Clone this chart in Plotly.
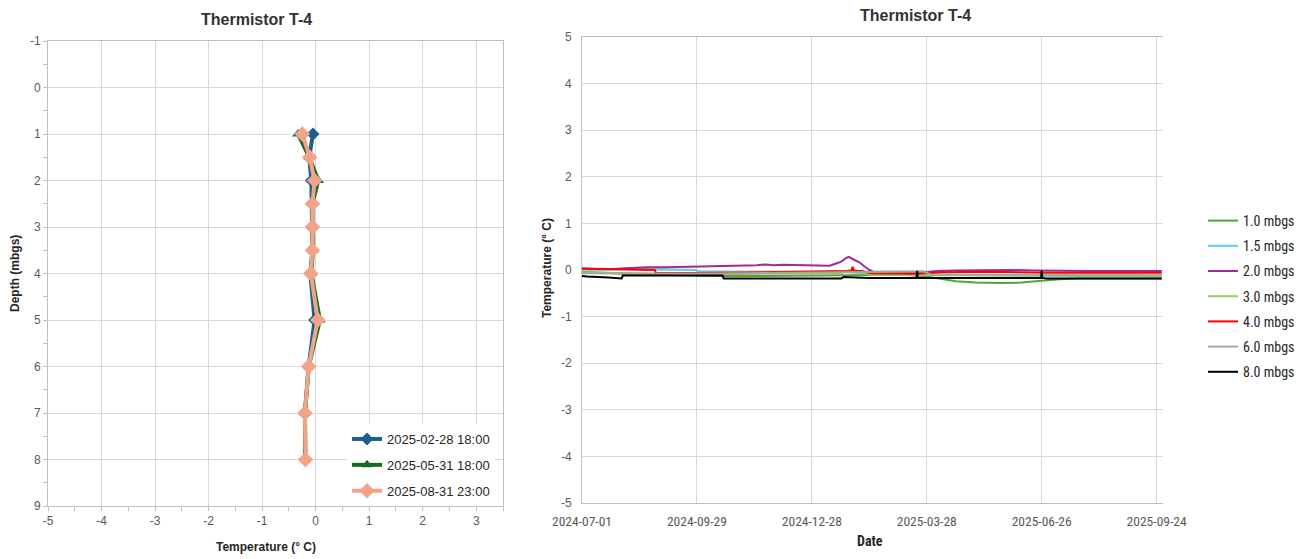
import plotly.graph_objects as go

# ---------------- Left chart: depth profiles ----------------
depths = [1, 1.5, 2, 2.5, 3, 3.5, 4, 5, 6, 7, 8]
temp_2025_02_28 = [-0.05, -0.12, -0.08, -0.07, -0.07, -0.06, -0.10, -0.02, -0.13, -0.20, -0.20]
temp_2025_05_31 = [-0.33, -0.12, 0.05, -0.06, -0.06, -0.05, -0.08, 0.08, -0.13, -0.20, -0.19]
temp_2025_08_31 = [-0.25, -0.11, -0.02, -0.06, -0.06, -0.06, -0.09, 0.04, -0.13, -0.20, -0.19]
profile_names = ["2025-02-28 18:00", "2025-05-31 18:00", "2025-08-31 23:00"]

left_x_ticks = [-5, -4, -3, -2, -1, 0, 1, 2, 3]
left_y_ticks = [-1, 0, 1, 2, 3, 4, 5, 6, 7, 8, 9]
right_y_ticks = [-5, -4, -3, -2, -1, 0, 1, 2, 3, 4, 5]

# ---------------- Right chart: time series ----------------
dates_10 = ["2024-07-01", "2024-07-15", "2024-08-01", "2024-08-20", "2024-09-15", "2024-10-15",
            "2024-11-15", "2024-12-15", "2025-01-15", "2025-02-15", "2025-03-10", "2025-03-25",
            "2025-04-05", "2025-04-20", "2025-05-05", "2025-05-25", "2025-06-10", "2025-06-26",
            "2025-07-10", "2025-07-25", "2025-09-28"]
temp_10 = [-0.04, -0.06, -0.08, -0.10, -0.11, -0.13, -0.13, -0.12, -0.11, -0.10, -0.10, -0.13,
           -0.18, -0.24, -0.27, -0.28, -0.27, -0.23, -0.20, -0.18, -0.18]

dates_15 = ["2024-07-01", "2024-07-20", "2024-08-05", "2024-09-01", "2024-09-28", "2024-10-01",
            "2024-11-01", "2024-12-15", "2025-01-20", "2025-02-12", "2025-03-20", "2025-05-01",
            "2025-06-15", "2025-07-15", "2025-09-28"]
temp_15 = [0.01, 0.00, 0.03, 0.02, 0.00, -0.03, -0.05, -0.05, -0.04, -0.08, -0.09, -0.10,
           -0.11, -0.13, -0.13]

dates_20 = ["2024-07-01", "2024-07-10", "2024-07-25", "2024-08-10", "2024-08-20", "2024-09-05",
            "2024-09-25", "2024-10-05", "2024-10-25", "2024-11-15", "2024-11-22", "2024-11-28",
            "2024-12-05", "2024-12-20", "2025-01-05", "2025-01-11", "2025-01-16", "2025-01-20",
            "2025-01-24", "2025-01-26", "2025-01-30", "2025-02-03", "2025-02-07", "2025-02-11",
            "2025-02-15", "2025-03-01", "2025-03-25", "2025-04-05", "2025-04-20", "2025-05-10",
            "2025-06-01", "2025-06-20", "2025-07-10", "2025-08-01", "2025-09-01", "2025-09-28"]
temp_20 = [0.03, 0.02, 0.02, 0.04, 0.06, 0.06, 0.07, 0.09, 0.10, 0.10, 0.12, 0.10,
           0.11, 0.10, 0.10, 0.09, 0.14, 0.18, 0.26, 0.28, 0.22, 0.17, 0.08, 0.00,
           -0.05, -0.06, -0.06, -0.02, -0.01, 0.00, 0.00, -0.01, -0.02, -0.02, -0.02, -0.02]

dates_30 = ["2024-07-01", "2024-08-01", "2024-09-01", "2024-10-01", "2024-12-01", "2025-01-20",
            "2025-01-28", "2025-02-05", "2025-02-12", "2025-04-01", "2025-06-01", "2025-09-28"]
temp_30 = [-0.05, -0.07, -0.08, -0.09, -0.08, -0.07, 0.02, -0.05, -0.10, -0.11, -0.12, -0.12]

dates_40 = ["2024-07-01", "2024-07-15", "2024-08-01", "2024-08-27", "2024-08-28", "2024-09-20",
            "2024-10-20", "2024-11-20", "2024-12-20", "2025-01-15", "2025-01-28", "2025-01-29",
            "2025-01-30", "2025-02-05", "2025-02-12", "2025-03-20", "2025-04-10", "2025-05-15",
            "2025-06-05", "2025-07-01", "2025-08-01", "2025-09-28"]
temp_40 = [0.03, 0.02, 0.01, 0.00, -0.07, -0.07, -0.06, -0.05, -0.04, -0.03, -0.02, 0.07,
           -0.02, -0.02, -0.07, -0.08, -0.05, -0.04, -0.05, -0.06, -0.06, -0.06]

dates_60 = ["2024-07-01", "2024-09-01", "2024-11-01", "2025-01-20", "2025-02-05", "2025-03-25",
            "2025-04-01", "2025-09-28"]
temp_60 = [-0.07, -0.08, -0.07, -0.05, -0.03, -0.03, -0.10, -0.11]

dates_80 = ["2024-07-01", "2024-07-05", "2024-07-22", "2024-08-01", "2024-08-02", "2024-09-15",
            "2024-10-19", "2024-10-20", "2024-12-01", "2025-01-20", "2025-01-22", "2025-02-05",
            "2025-02-10", "2025-03-20 00:00", "2025-03-20 12:00", "2025-03-21 00:00",
            "2025-06-25 12:00", "2025-06-26 00:00", "2025-06-26 12:00", "2025-06-30", "2025-09-28"]
temp_80 = [-0.13, -0.14, -0.16, -0.18, -0.12, -0.12, -0.12, -0.18, -0.18, -0.18, -0.15, -0.16,
           -0.17, -0.17, -0.02, -0.17, -0.17, -0.02, -0.17, -0.18, -0.18]

series_names = ["1.0 mbgs", "1.5 mbgs", "2.0 mbgs", "3.0 mbgs", "4.0 mbgs", "6.0 mbgs", "8.0 mbgs"]
series_dates = [dates_10, dates_15, dates_20, dates_30, dates_40, dates_60, dates_80]
series_temps = [temp_10, temp_15, temp_20, temp_30, temp_40, temp_60, temp_80]
series_colors = ["#4EA72E", "#61CBF3", "#A02B93", "#92D050", "#FF0000", "#A6A6A6", "#000000"]

W, H = 1302, 559
GRID = "#D9D9D9"
TICKC = "#595959"
FONT = "Liberation Sans, Arial, sans-serif"
NARROW = "Liberation Sans Narrow, Roboto Condensed, Liberation Sans, Arial, sans-serif"


def tick_text(vals):
    return [str(v) for v in vals]


fig = go.Figure()

prof_colors = ["#1F5F8B", "#196B24", "#F2A488"]
prof_symbols = ["diamond", "triangle-up", "diamond"]
prof_sizes = [10, 10, 12]
for i, vals in enumerate([temp_2025_02_28, temp_2025_05_31, temp_2025_08_31]):
    fig.add_trace(go.Scatter(
        x=vals, y=depths, mode="lines+markers", name=profile_names[i],
        line=dict(color=prof_colors[i], width=4),
        marker=dict(symbol=prof_symbols[i], size=prof_sizes[i], color=prof_colors[i]),
        xaxis="x", yaxis="y", legend="legend", legendgroup="p%d" % i))

for name, d, t, c in zip(series_names, series_dates, series_temps, series_colors):
    fig.add_trace(go.Scatter(
        x=d, y=t, mode="lines", name=name, line=dict(color=c, width=2),
        xaxis="x2", yaxis="y2", legend="legend2", legendgroup=name))

common_axis = dict(showgrid=True, gridcolor=GRID, gridwidth=1, zeroline=False,
                   showline=True, linecolor="#BFBFBF", linewidth=1, automargin=False,
                   tickfont=dict(family=FONT, size=12, color=TICKC))

fig.update_layout(
    width=W, height=H, margin=dict(l=0, r=0, t=0, b=0, autoexpand=False),
    paper_bgcolor="white", plot_bgcolor="white",
    font=dict(family=FONT, size=12, color="#262626"),
    xaxis=dict(domain=[48 / W, 503 / W], anchor="y", range=[-5, 3.5],
               tickmode="array", tickvals=left_x_ticks, ticktext=tick_text(left_x_ticks),
               ticks="outside", ticklen=4, tickcolor="#BFBFBF", mirror=True,
               minor=dict(dtick=0.5, tick0=0, ticks="outside", ticklen=4, tickcolor="#BFBFBF", showgrid=False),
               **common_axis),
    yaxis=dict(domain=[53 / H, 518 / H], anchor="x", range=[9, -1],
               tickmode="array", tickvals=left_y_ticks, ticktext=tick_text(left_y_ticks),
               ticks="outside", ticklen=4, tickcolor="#BFBFBF", mirror=True,
               minor=dict(dtick=0.5, tick0=0, ticks="outside", ticklen=4, tickcolor="#BFBFBF", showgrid=False),
               **common_axis),
    xaxis2=dict(domain=[582 / W, 1163 / W], anchor="y2", type="date",
                range=["2024-07-01", "2025-09-29"], tick0="2024-07-01", dtick=90 * 86400000,
                tickformat="%Y-%m-%d", ticks="", mirror=True, ticklabelstandoff=6,
                **{**common_axis, "tickfont": dict(family=NARROW, size=13.5, color=TICKC)}),
    yaxis2=dict(domain=[56 / H, 522 / H], anchor="x2", range=[-5, 5],
                tickmode="array", tickvals=right_y_ticks, ticktext=tick_text(right_y_ticks),
                ticks="", ticklabelstandoff=7, **common_axis),
    legend=dict(x=347 / W, y=1 - 424 / H, xanchor="left", yanchor="top", bgcolor="white",
                font=dict(family=FONT, size=13, color="#262626"), tracegroupgap=6,
                traceorder="grouped"),
    legend2=dict(x=1203 / W, y=1 - 205 / H, xanchor="left", yanchor="top", bgcolor="rgba(0,0,0,0)",
                 font=dict(family=NARROW, size=14, color="#262626"), tracegroupgap=4,
                 traceorder="grouped"),
    showlegend=True,
)

ann = [
    dict(text="<b>Thermistor T-4</b>", x=256 / W, y=1 - 19 / H, font=dict(size=16, color="#333333")),
    dict(text="<b>Thermistor T-4</b>", x=915 / W, y=1 - 16 / H, font=dict(size=16, color="#333333")),
    dict(text="<b>Depth (mbgs)</b>", x=15 / W, y=1 - 274 / H, textangle=-90, font=dict(size=12, color="#262626")),
    dict(text="<b>Temperature (° C)</b>", x=266 / W, y=1 - 547 / H, font=dict(size=12, color="#262626")),
    dict(text="<b>Temperature (° C)</b>", x=547 / W, y=1 - 268 / H, textangle=-90, font=dict(size=12, color="#262626")),
    dict(text="<b>Date</b>", x=870 / W, y=1 - 541 / H, font=dict(family=NARROW, size=14, color="#262626")),
]
for a in ann:
    a.update(xref="paper", yref="paper", showarrow=False, xanchor="center", yanchor="middle")
fig.update_layout(annotations=ann)

fig.write_html("out.html", config={"displayModeBar": False},
               post_script="document.body.style.margin='0px';document.body.style.overflow='hidden';")
